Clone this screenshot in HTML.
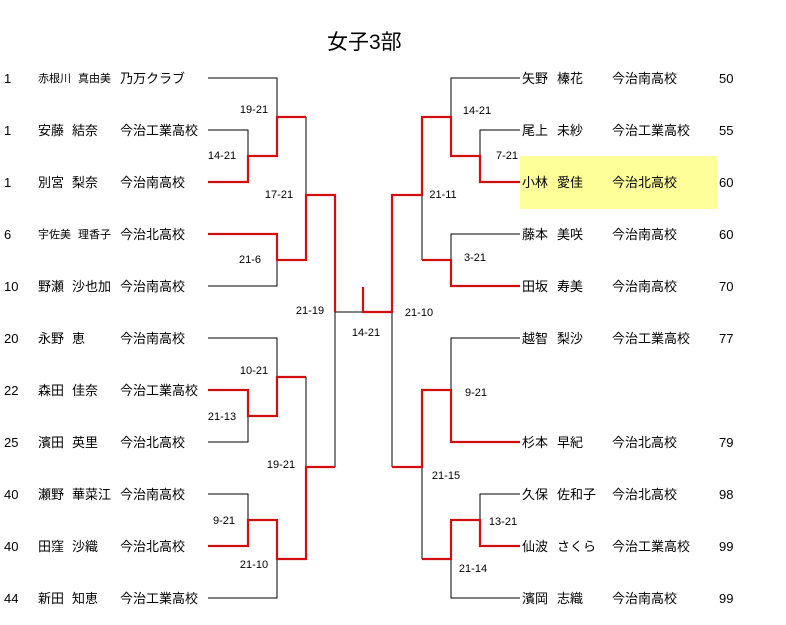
<!DOCTYPE html>
<html><head><meta charset="utf-8"><style>
html,body{margin:0;padding:0;background:#fff;}
svg{display:block;}
text{font-family:"Liberation Sans","Noto Sans CJK JP",sans-serif;fill:#000;}
.n{font-size:13px;}
.s{font-size:11px;}
.sc{font-size:11px;font-family:"Liberation Sans","Noto Sans CJK JP",sans-serif;}
</style></head><body>
<svg width="786" height="625" viewBox="0 0 786 625">
<rect x="520" y="156" width="197" height="53" fill="#ffff99"/>
<text x="327" y="49" font-size="21">女子3部</text>

<g fill="none" stroke="#000" stroke-width="1">
<polyline points="208,78 277,78 277,117"/>
<polyline points="208,130 248,130 248,156"/>
<polyline points="306,117 306,195"/>
<polyline points="208,286 277,286 277,260"/>
<polyline points="335,312 363,312"/>
<polyline points="208,338 277,338 277,377"/>
<polyline points="208,442 248,442 248,416"/>
<polyline points="306,377 306,467"/>
<polyline points="335,312 335,467"/>
<polyline points="208,494 248,494 248,520"/>
<polyline points="208,598 277,598 277,559"/>
<polyline points="520,78 451,78 451,117"/>
<polyline points="520,130 480,130 480,156"/>
<polyline points="422,195 422,260"/>
<polyline points="520,234 451,234 451,260"/>
<polyline points="392,312 392,467"/>
<polyline points="520,338 451,338 451,390"/>
<polyline points="422,467 422,559"/>
<polyline points="520,494 480,494 480,520"/>
<polyline points="520,598 451,598 451,559"/>
</g>

<g fill="none" stroke="#d01010" stroke-width="2.2">
<polyline points="208,182 248,182 248,156 277,156 277,117 306,117"/>
<polyline points="208,234 277,234 277,260 306,260 306,195 335,195 335,312"/>
<polyline points="208,390 248,390 248,416 277,416 277,377 306,377"/>
<polyline points="208,546 248,546 248,520 277,520 277,559 306,559 306,467 335,467"/>
<polyline points="363,287 363,312 392,312 392,195 422,195 422,117 451,117 451,156 480,156 480,182 520,182"/>
<polyline points="520,286 451,286 451,260 422,260"/>
<polyline points="392,467 422,467 422,390 451,390 451,442 520,442"/>
<polyline points="422,559 451,559 451,520 480,520 480,546 520,546"/>
</g>

<g class="n">
<text x="4" y="83">1</text><text x="38" y="82" class="s">赤根川</text><text x="78" y="82" class="s">真由美</text><text x="120" y="83">乃万クラブ</text>
<text x="4" y="135">1</text><text x="38" y="135">安藤</text><text x="72" y="135">結奈</text><text x="120" y="135">今治工業高校</text>
<text x="4" y="187">1</text><text x="38" y="187">別宮</text><text x="72" y="187">梨奈</text><text x="120" y="187">今治南高校</text>
<text x="4" y="239">6</text><text x="38" y="238" class="s">宇佐美</text><text x="78" y="238" class="s">理香子</text><text x="120" y="239">今治北高校</text>
<text x="4" y="291">10</text><text x="38" y="291">野瀬</text><text x="72" y="291">沙也加</text><text x="120" y="291">今治南高校</text>
<text x="4" y="343">20</text><text x="38" y="343">永野</text><text x="72" y="343">恵</text><text x="120" y="343">今治南高校</text>
<text x="4" y="395">22</text><text x="38" y="395">森田</text><text x="72" y="395">佳奈</text><text x="120" y="395">今治工業高校</text>
<text x="4" y="447">25</text><text x="38" y="447">濱田</text><text x="72" y="447">英里</text><text x="120" y="447">今治北高校</text>
<text x="4" y="499">40</text><text x="38" y="499">瀬野</text><text x="72" y="499">華菜江</text><text x="120" y="499">今治南高校</text>
<text x="4" y="551">40</text><text x="38" y="551">田窪</text><text x="72" y="551">沙織</text><text x="120" y="551">今治北高校</text>
<text x="4" y="603">44</text><text x="38" y="603">新田</text><text x="72" y="603">知恵</text><text x="120" y="603">今治工業高校</text>
</g>
<g class="n">
<text x="522" y="83">矢野</text><text x="557" y="83">榛花</text><text x="612" y="83">今治南高校</text><text x="719" y="83">50</text>
<text x="522" y="135">尾上</text><text x="557" y="135">未紗</text><text x="612" y="135">今治工業高校</text><text x="719" y="135">55</text>
<text x="522" y="187">小林</text><text x="557" y="187">愛佳</text><text x="612" y="187">今治北高校</text><text x="719" y="187">60</text>
<text x="522" y="239">藤本</text><text x="557" y="239">美咲</text><text x="612" y="239">今治南高校</text><text x="719" y="239">60</text>
<text x="522" y="291">田坂</text><text x="557" y="291">寿美</text><text x="612" y="291">今治南高校</text><text x="719" y="291">70</text>
<text x="522" y="343">越智</text><text x="557" y="343">梨沙</text><text x="612" y="343">今治工業高校</text><text x="719" y="343">77</text>
<text x="522" y="447">杉本</text><text x="557" y="447">早紀</text><text x="612" y="447">今治北高校</text><text x="719" y="447">79</text>
<text x="522" y="499">久保</text><text x="557" y="499">佐和子</text><text x="612" y="499">今治北高校</text><text x="719" y="499">98</text>
<text x="522" y="551">仙波</text><text x="557" y="551">さくら</text><text x="612" y="551">今治工業高校</text><text x="719" y="551">99</text>
<text x="522" y="603">濱岡</text><text x="557" y="603">志織</text><text x="612" y="603">今治南高校</text><text x="719" y="603">99</text>
</g>
<g class="sc" text-anchor="middle">
<text x="254" y="113">19-21</text>
<text x="222" y="159">14-21</text>
<text x="279" y="198">17-21</text>
<text x="250" y="263">21-6</text>
<text x="310" y="314">21-19</text>
<text x="366" y="336">14-21</text>
<text x="254" y="374">10-21</text>
<text x="222" y="420">21-13</text>
<text x="281" y="468">19-21</text>
<text x="224" y="524">9-21</text>
<text x="254" y="568">21-10</text>
<text x="477" y="114">14-21</text>
<text x="507" y="159">7-21</text>
<text x="443" y="198">21-11</text>
<text x="475" y="261">3-21</text>
<text x="419" y="316">21-10</text>
<text x="476" y="396">9-21</text>
<text x="446" y="479">21-15</text>
<text x="503" y="525">13-21</text>
<text x="473" y="572">21-14</text>
</g>
</svg>
</body></html>
